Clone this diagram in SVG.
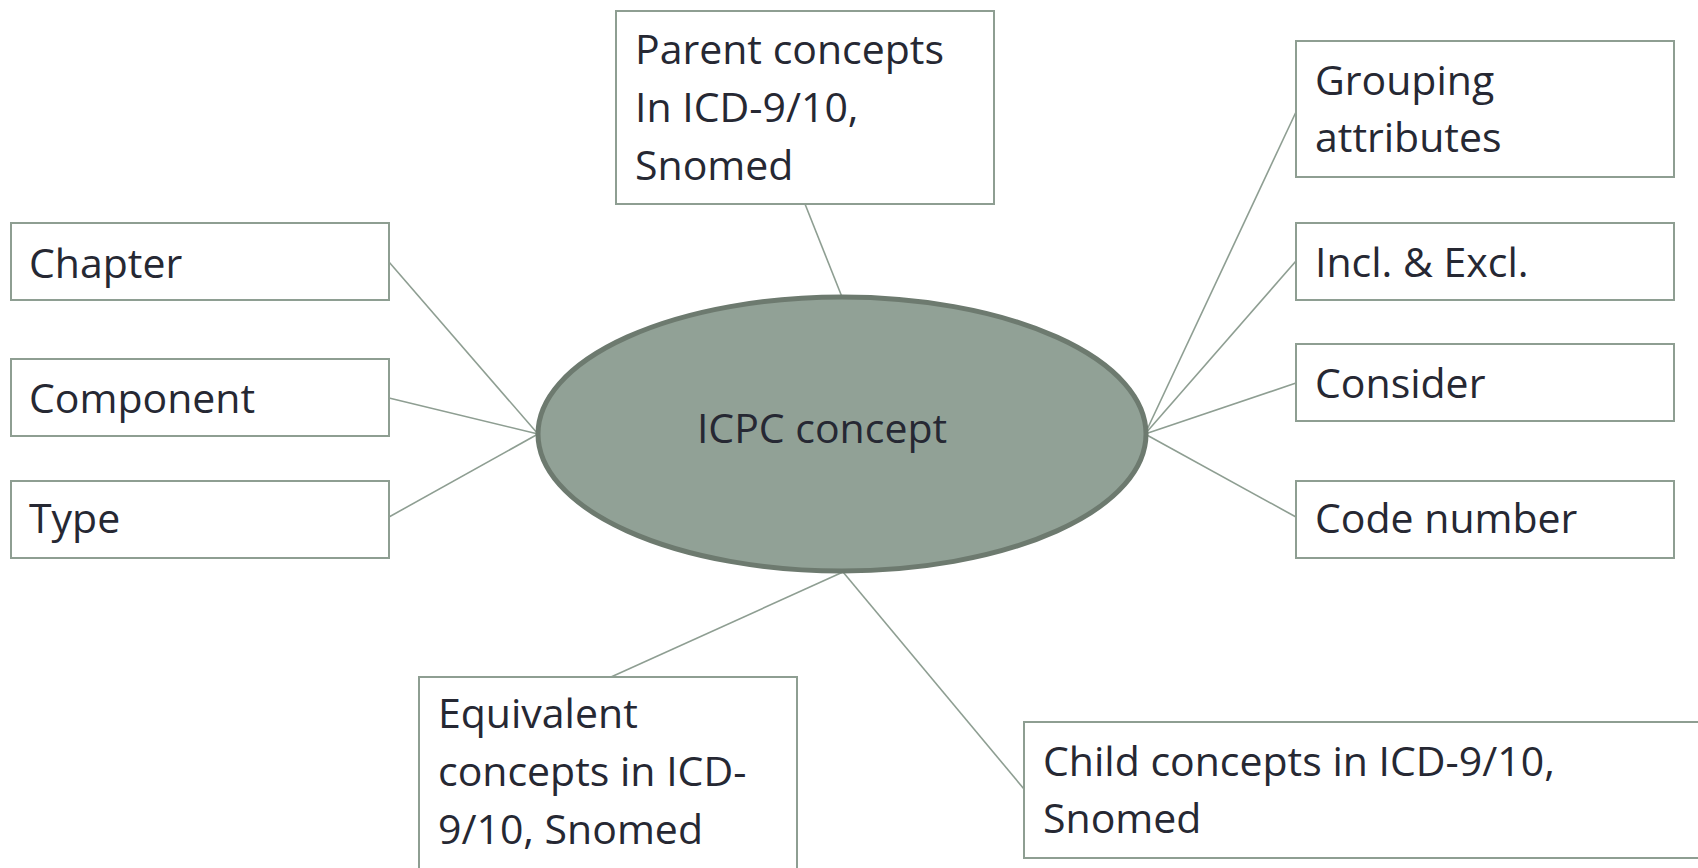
<svg xmlns="http://www.w3.org/2000/svg" width="1698" height="868" viewBox="0 0 1698 868">
<style>
.box{fill:#ffffff;stroke:#8e9e92;stroke-width:2}
.t{font-family:"Open Sans","Noto Sans",sans-serif;font-size:41px;fill:#262833}
.c{stroke:#8e9e92;stroke-width:1.6;fill:none}
</style>
<rect width="1698" height="868" fill="#ffffff"/>
<g id="connectors">
<line class="c" x1="805" y1="204" x2="842" y2="297"/>
<line class="c" x1="389" y1="262" x2="538" y2="434"/>
<line class="c" x1="389" y1="398" x2="538" y2="434"/>
<line class="c" x1="389" y1="517" x2="538" y2="434"/>
<line class="c" x1="1296" y1="112" x2="1145" y2="434"/>
<line class="c" x1="1296" y1="261" x2="1145" y2="434"/>
<line class="c" x1="1296" y1="383" x2="1145" y2="434"/>
<line class="c" x1="1296" y1="517" x2="1145" y2="434"/>
<line class="c" x1="611" y1="677" x2="843" y2="572"/>
<line class="c" x1="843" y1="572" x2="1024" y2="789"/>
</g>
<g id="center">
<ellipse cx="842" cy="434" rx="304" ry="137" fill="#91a196" stroke="#6d7a6f" stroke-width="5"/>
<text class="t" x="822" y="443" text-anchor="middle">ICPC concept</text>
</g>
<g id="parent">
<rect class="box" x="616" y="11" width="378" height="193"/>
<text class="t" x="635" y="64">Parent concepts</text>
<text class="t" x="635" y="122">In ICD-9/10,</text>
<text class="t" x="635" y="180">Snomed</text>
</g>
<g id="chapter">
<rect class="box" x="11" y="223" width="378" height="77"/>
<text class="t" x="29" y="278">Chapter</text>
</g>
<g id="component">
<rect class="box" x="11" y="359" width="378" height="77"/>
<text class="t" x="29" y="413">Component</text>
</g>
<g id="type">
<rect class="box" x="11" y="481" width="378" height="77"/>
<text class="t" x="29" y="533">Type</text>
</g>
<g id="grouping">
<rect class="box" x="1296" y="41" width="378" height="136"/>
<text class="t" x="1315" y="95">Grouping</text>
<text class="t" x="1315" y="152">attributes</text>
</g>
<g id="incl">
<rect class="box" x="1296" y="223" width="378" height="77"/>
<text class="t" x="1315" y="277">Incl. &amp; Excl.</text>
</g>
<g id="consider">
<rect class="box" x="1296" y="344" width="378" height="77"/>
<text class="t" x="1315" y="398">Consider</text>
</g>
<g id="code">
<rect class="box" x="1296" y="481" width="378" height="77"/>
<text class="t" x="1315" y="533">Code number</text>
</g>
<g id="equivalent">
<rect class="box" x="419" y="677" width="378" height="220"/>
<text class="t" x="438" y="728">Equivalent</text>
<text class="t" x="438" y="786">concepts in ICD-</text>
<text class="t" x="438" y="844">9/10, Snomed</text>
</g>
<g id="child">
<rect class="box" x="1024" y="722" width="720" height="136"/>
<text class="t" x="1043" y="776">Child concepts in ICD-9/10,</text>
<text class="t" x="1043" y="833">Snomed</text>
</g>
</svg>
